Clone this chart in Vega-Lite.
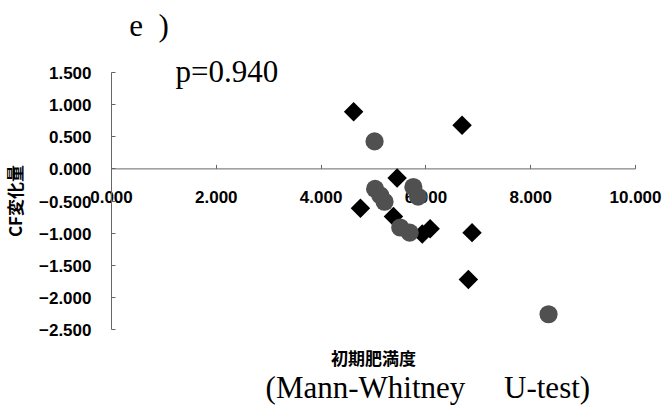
{
  "$schema": "https://vega.github.io/schema/vega-lite/v6.json",
  "width": 524,
  "height": 257,
  "autosize": {"type": "none"},
  "padding": {"left": 111, "top": 72, "right": 28, "bottom": 84},
  "background": "white",
  "config": {"view": {"stroke": null}, "axis": {"grid": false, "labelOverlap": false}},
  "encoding": {
    "x": {
      "field": "x", "type": "quantitative",
      "scale": {"domain": [0, 10], "nice": false, "zero": false},
      "axis": {
        "values": [0, 2, 4, 6, 8, 10], "format": ".3f",
        "title": "初期肥満度",
        "offset": -160.6,
        "domainColor": "#666", "tickColor": "#666", "tickSize": -4,
        "labelFont": "Liberation Sans", "labelFontSize": 17, "labelFontWeight": "bold", "labelColor": "black",
        "labelPadding": 25, "labelFlush": false, "labelOverlap": false,
        "titleFont": "Noto Sans CJK JP", "titleFontSize": 17, "titleFontWeight": "bold", "titleColor": "black",
        "titleY": 191, "titleBaseline": "middle"
      }
    },
    "y": {
      "field": "y", "type": "quantitative",
      "scale": {"domain": [-2.5, 1.5], "nice": false, "zero": false},
      "axis": {
        "values": [1.5, 1, 0.5, 0, -0.5, -1, -1.5, -2, -2.5], "format": ".3f",
        "title": "CF変化量",
        "domainColor": "#666", "tickColor": "#666", "tickSize": -4,
        "labelFont": "Liberation Sans", "labelFontSize": 17, "labelFontWeight": "bold", "labelColor": "black",
        "labelPadding": 24, "labelFlush": false, "labelOverlap": false, "labelOffset": 1.5,
        "titleFont": "Noto Sans CJK JP", "titleFontSize": 17, "titleFontWeight": "bold", "titleColor": "black",
        "titleX": -95, "titleBaseline": "middle"
      }
    }
  },
  "layer": [
    {
      "data": {
        "values": [
          {"x": 4.63, "y": 0.88, "group": "A"},
          {"x": 6.70, "y": 0.67, "group": "A"},
          {"x": 5.46, "y": -0.15, "group": "A"},
          {"x": 4.76, "y": -0.62, "group": "A"},
          {"x": 5.39, "y": -0.75, "group": "A"},
          {"x": 6.09, "y": -0.94, "group": "A"},
          {"x": 5.94, "y": -1.02, "group": "A"},
          {"x": 6.89, "y": -1.00, "group": "A"},
          {"x": 6.82, "y": -1.73, "group": "A"},
          {"x": 5.03, "y": 0.42, "group": "B"},
          {"x": 5.04, "y": -0.32, "group": "B"},
          {"x": 5.14, "y": -0.42, "group": "B"},
          {"x": 5.22, "y": -0.52, "group": "B"},
          {"x": 5.77, "y": -0.29, "group": "B"},
          {"x": 5.86, "y": -0.44, "group": "B"},
          {"x": 5.52, "y": -0.92, "group": "B"},
          {"x": 5.70, "y": -1.00, "group": "B"},
          {"x": 8.35, "y": -2.27, "group": "B"}
        ]
      },
      "mark": {"type": "point", "filled": true, "opacity": 1},
      "encoding": {
        "shape": {"field": "group", "scale": {"domain": ["A", "B"], "range": ["diamond", "circle"]}, "legend": null},
        "color": {"field": "group", "scale": {"domain": ["A", "B"], "range": ["#000000", "#505050"]}, "legend": null},
        "size": {"field": "group", "scale": {"domain": ["A", "B"], "range": [380, 330]}, "legend": null}
      }
    },
    {
      "data": {
        "values": [
          {"x": 0.35, "y": 2.20, "label": "e\u00a0\u00a0)"},
          {"x": 1.23, "y": 1.49, "label": "p=0.940"},
          {"x": 2.95, "y": -3.43, "label": "(Mann-Whitney\u00a0\u00a0\u00a0\u00a0\u00a0U-test)"}
        ]
      },
      "mark": {"type": "text", "font": "Liberation Serif", "fontSize": 31, "align": "left", "baseline": "middle", "clip": false, "color": "black"},
      "encoding": {
        "text": {"field": "label"}
      }
    }
  ]
}
